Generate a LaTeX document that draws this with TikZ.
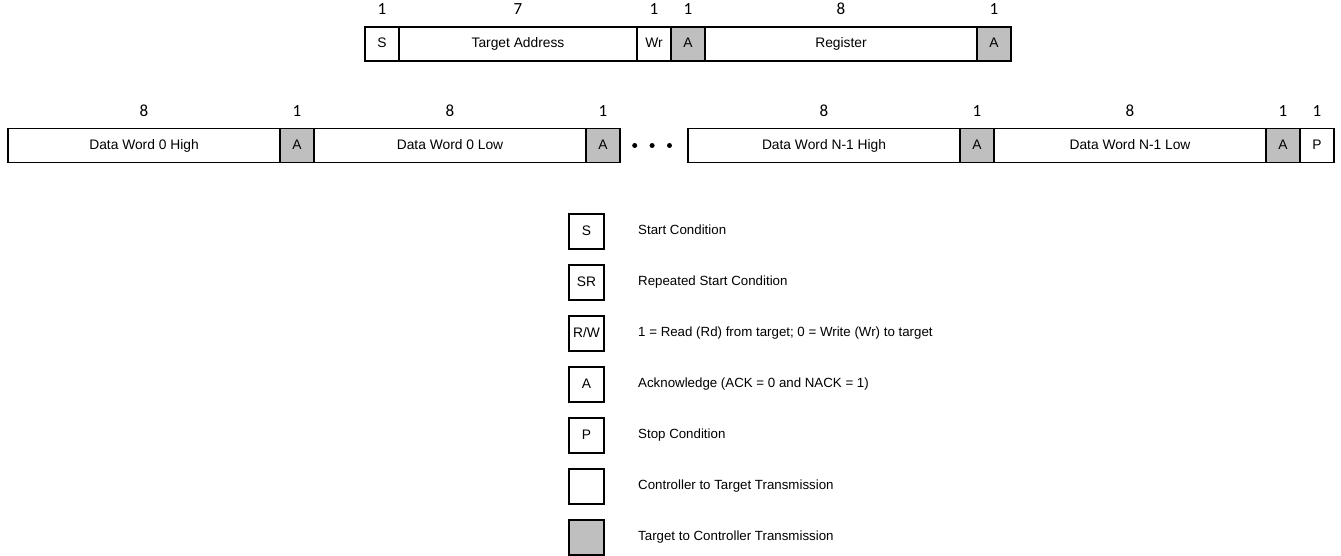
\documentclass[tikz,border=0pt]{standalone}
\usepackage{fontspec}
\setmainfont{Liberation Sans}
\newfontfamily\numfont{Carlito}
\usetikzlibrary{positioning}
\definecolor{ackg}{RGB}{191,191,191}

\begin{document}
\begin{tikzpicture}[x=1pt,y=-1pt,
  fld/.style={draw,line width=1.1pt,minimum height=34pt,inner sep=0pt,outer sep=0pt,text height=9.8pt,text depth=2.6pt,font=\fontsize{13.8}{15}\selectfont},
  b1/.style={fld,minimum width=34pt},
  b7/.style={fld,minimum width=238pt},
  b8/.style={fld,minimum width=272pt},
  ack/.style={b1,fill=ackg},
  num/.style={font=\numfont\fontsize{17}{19}\selectfont,inner sep=0pt,outer sep=0pt},
  dot/.style={circle,fill=black,inner sep=0pt,minimum size=5pt},
  lbox/.style={fld,minimum width=35pt,minimum height=35pt},
  ltxt/.style={inner sep=0pt,text height=9.4pt,text depth=2.5pt,font=\fontsize{13.3}{15}\selectfont}]
  \useasboundingbox (0,0) rectangle (1341,556);
  % write header
  \node[b1] (s) at (382,44) {S};
  \node[b7,right=0pt of s] (addr) {Target Address};
  \node[b1,right=0pt of addr] (wr) {Wr};
  \node[ack,right=0pt of wr] (a1) {A};
  \node[b8,right=0pt of a1] (reg) {Register};
  \node[ack,right=0pt of reg] (a2) {A};
  \node[num,above=12pt of s] (ns) {1};
  \node[num,above=12pt of addr] (naddr) {7};
  \node[num,above=12pt of wr] (nwr) {1};
  \node[num,above=12pt of a1] (na1) {1};
  \node[num,above=12pt of reg] (nreg) {8};
  \node[num,above=12pt of a2] (na2) {1};
  % data words
  \node[b8] (d0h) at (144,145.5) {Data Word 0 High};
  \node[ack,right=0pt of d0h] (a3) {A};
  \node[b8,right=0pt of a3] (d0l) {Data Word 0 Low};
  \node[ack,right=0pt of d0l] (a4) {A};
  \node[dot,right=12pt of a4] (dt1) {};
  \node[dot,right=12pt of dt1] (dt2) {};
  \node[dot,right=12pt of dt2] (dt3) {};
  \node[b8,right=68pt of a4] (dnh) {Data Word N-1 High};
  \node[ack,right=0pt of dnh] (a5) {A};
  \node[b8,right=0pt of a5] (dnl) {Data Word N-1 Low};
  \node[ack,right=0pt of dnl] (a6) {A};
  \node[b1,right=0pt of a6] (p) {P};
  \node[num,above=12pt of d0h] (nd0h) {8};
  \node[num,above=12pt of a3] (na3) {1};
  \node[num,above=12pt of d0l] (nd0l) {8};
  \node[num,above=12pt of a4] (na4) {1};
  \node[num,above=12pt of dnh] (ndnh) {8};
  \node[num,above=12pt of a5] (na5) {1};
  \node[num,above=12pt of dnl] (ndnl) {8};
  \node[num,above=12pt of a6] (na6) {1};
  \node[num,above=12pt of p] (np) {1};
  % legend
  \node[lbox] (ls) at (586.5,231.5) {S};
  \node[lbox,below=16pt of ls] (lsr) {SR};
  \node[lbox,below=16pt of lsr] (lrw) {R/W};
  \node[lbox,below=16pt of lrw] (la) {A};
  \node[lbox,below=16pt of la] (lp) {P};
  \node[lbox,below=16pt of lp] (lct) {};
  \node[lbox,fill=ackg,below=16pt of lct] (ltc) {};
  \node[ltxt,right=34pt of ls] (ts) {Start Condition};
  \node[ltxt,right=34pt of lsr] (tsr) {Repeated Start Condition};
  \node[ltxt,right=34pt of lrw] (trw) {1 = Read (Rd) from target; 0 = Write (Wr) to target};
  \node[ltxt,right=34pt of la] (ta) {Acknowledge (ACK = 0 and NACK = 1)};
  \node[ltxt,right=34pt of lp] (tp) {Stop Condition};
  \node[ltxt,right=34pt of lct] (tct) {Controller to Target Transmission};
  \node[ltxt,right=34pt of ltc] (ttc) {Target to Controller Transmission};
\end{tikzpicture}
\end{document}
